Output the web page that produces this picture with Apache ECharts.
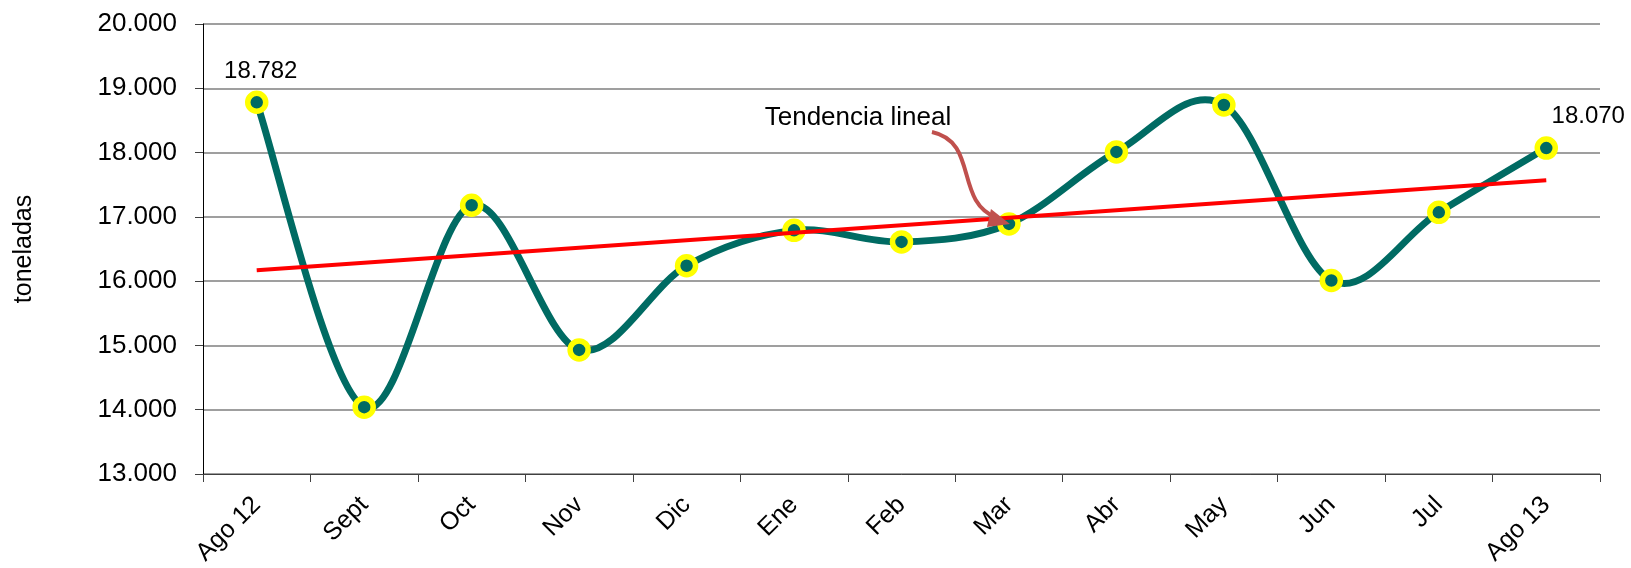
<!DOCTYPE html>
<html>
<head>
<meta charset="utf-8">
<script src="https://cdn.jsdelivr.net/npm/echarts@6/dist/echarts.min.js"></script>
<style>
html,body{margin:0;padding:0;background:#fff;}
#chart{width:1631px;height:568px;}
</style>
</head>
<body>
<div id="chart"></div>
<script>
// ---- data ----
var categories = ['Ago 12','Sept','Oct','Nov','Dic','Ene','Feb','Mar','Abr','May','Jun','Jul','Ago 13'];
var tonnes = [18782, 14040, 17180, 14930, 16240, 16790, 16610, 16890, 18010, 18740, 16010, 17070, 18070];
var trendEnds = [16170, 17570]; // linear trend read at first and last category
var yTicks = { min: 13000, max: 20000, step: 1000 };
var labelledIdx = [0, 12];
var annotationText = 'Tendencia lineal';
var annotationIdx = 7;

var FONT = 'Liberation Sans';
var TEAL = '#006B63';
function fmt(v){ return String(v).replace(/\B(?=(\d{3})+(?!\d))/g, '.'); }

var chart = echarts.init(document.getElementById('chart'), null, {renderer:'canvas'});

var markerData = tonnes.map(function(v, i){
  var d = { value: [i, v] };
  if (labelledIdx.indexOf(i) >= 0) {
    var last = i === tonnes.length - 1;
    d.label = { show: true, position: 'top', distance: last ? 8 : 7,
      offset: last ? [42, 0] : [4, 0] };
  }
  return d;
});

// smooth curve (Catmull-Rom style, like spreadsheet "smoothed line") through the data,
// positioned with the chart's own coordinate system
function renderSmooth(params, api) {
  var pts = tonnes.map(function(v, i){ return api.coord([i, v]); });
  var children = [];
  for (var i = 0; i < pts.length - 1; i++) {
    var p0 = pts[Math.max(i - 1, 0)], p1 = pts[i], p2 = pts[i + 1], p3 = pts[Math.min(i + 2, pts.length - 1)];
    children.push({
      type: 'bezierCurve',
      shape: {
        x1: p1[0], y1: p1[1],
        cpx1: p1[0] + (p2[0] - p0[0]) / 6, cpy1: p1[1] + (p2[1] - p0[1]) / 6,
        cpx2: p2[0] - (p3[0] - p1[0]) / 6, cpy2: p2[1] - (p3[1] - p1[1]) / 6,
        x2: p2[0], y2: p2[1]
      },
      style: { stroke: TEAL, lineWidth: 7, fill: null, lineCap: 'round' }
    });
  }
  return { type: 'group', children: children };
}

var option = {
  animation: false,
  backgroundColor: '#ffffff',
  textStyle: { fontFamily: FONT },
  grid: { left: 203, right: 31, top: 24, bottom: 94, containLabel: false },
  xAxis: {
    type: 'category',
    data: categories,
    boundaryGap: true,
    axisLine: { show: true, lineStyle: { color: '#404040', width: 1 } },
    axisTick: { show: true, length: 8, lineStyle: { color: '#404040' } },
    axisLabel: { rotate: 45, margin: 27, fontSize: 25, color: '#000', fontFamily: FONT },
    splitLine: { show: false }
  },
  yAxis: {
    type: 'value',
    min: yTicks.min, max: yTicks.max, interval: yTicks.step,
    name: 'toneladas',
    nameLocation: 'middle',
    nameGap: 166,
    nameRotate: 90,
    nameTextStyle: { fontSize: 25, color: '#000', fontFamily: FONT },
    axisLine: { show: true, lineStyle: { color: '#000', width: 1 } },
    axisTick: { show: true, length: 8, lineStyle: { color: '#404040' } },
    axisLabel: { margin: 26, fontSize: 26, color: '#000', fontFamily: FONT, formatter: fmt },
    splitLine: { show: true, lineStyle: { color: '#7f7f7f', width: 1.5 } }
  },
  series: [
    {
      type: 'custom',
      data: [0],
      renderItem: renderSmooth,
      z: 2,
      silent: true
    },
    {
      type: 'scatter',
      data: markerData,
      z: 3,
      symbol: 'circle',
      symbolSize: 18,
      itemStyle: { color: TEAL, borderColor: '#FFFF00', borderWidth: 5.5, opacity: 1 },
      label: { show: false, fontSize: 24, color: '#000', fontFamily: FONT,
        formatter: function(p){ return fmt(p.value[1]); } }
    },
    {
      type: 'line',
      data: [[0, trendEnds[0]], [categories.length - 1, trendEnds[1]]],
      z: 4,
      symbol: 'none',
      lineStyle: { color: '#FF0000', width: 4 },
      silent: true
    }
  ]
};
chart.setOption(option);

// annotation anchored to the Mar point
var tip = chart.convertToPixel({ seriesIndex: 1 }, [annotationIdx, tonnes[annotationIdx]]);
var tx = tip[0], ty = tip[1];
chart.setOption({
  graphic: [
    {
      type: 'text',
      x: tx - 151, y: ty - 106,
      z: 10,
      style: { text: annotationText, fontSize: 26, fontFamily: FONT, fill: '#000', align: 'center', verticalAlign: 'middle' }
    },
    {
      type: 'bezierCurve',
      z: 10,
      shape: { x1: tx - 77, y1: ty - 92, cpx1: tx - 30, cpy1: ty - 82, cpx2: tx - 55, cpy2: ty - 22, x2: tx - 12, y2: ty - 6 },
      style: { stroke: '#C0504D', lineWidth: 4, fill: null }
    },
    {
      type: 'polygon',
      z: 10,
      shape: { points: [[tx + 1, ty], [tx - 18, ty - 15], [tx - 22, ty + 3]] },
      style: { fill: '#C0504D' }
    }
  ]
});
</script>
</body>
</html>
